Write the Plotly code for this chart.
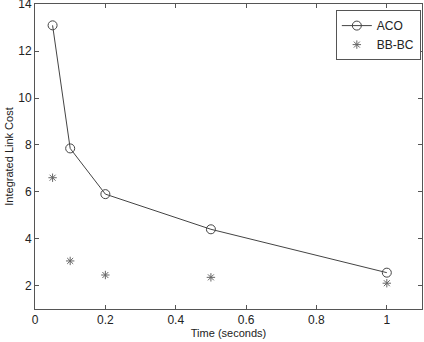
import plotly.graph_objects as go

time_aco = [0.05, 0.1, 0.2, 0.5, 1.0]
cost_aco = [13.1, 7.85, 5.9, 4.4, 2.55]
time_bbbc = [0.05, 0.1, 0.2, 0.5, 1.0]
cost_bbbc = [6.6, 3.05, 2.45, 2.35, 2.1]
x_ticks = [0, 0.2, 0.4, 0.6, 0.8, 1]
x_tick_labels = ["0", "0.2", "0.4", "0.6", "0.8", "1"]
y_ticks = [2, 4, 6, 8, 10, 12, 14]

FONT = "Liberation Sans, Arial"
fig = go.Figure()
fig.add_trace(go.Scatter(x=time_aco, y=cost_aco, mode="lines+markers", name="ACO",
                         line=dict(color="#444444", width=1),
                         marker=dict(symbol="circle-open", size=9, color="#444444", line=dict(width=1))))
fig.add_trace(go.Scatter(x=time_bbbc, y=cost_bbbc, mode="markers", name="BB-BC",
                         marker=dict(symbol="asterisk-open", size=7, color="#666666", line=dict(width=1, color="#666666"))))

axis_common = dict(showgrid=False, zeroline=False, showline=True, linecolor="#555555", linewidth=1,
                   mirror="ticks", ticks="inside", ticklen=4, tickcolor="#555555", automargin=False,
                   ticklabeloverflow="allow",
                   tickfont=dict(family=FONT, size=12, color="#222222"))
fig.update_layout(
    width=424, height=342,
    margin=dict(l=35, r=2, t=4, b=33),
    paper_bgcolor="white", plot_bgcolor="white",
    xaxis=dict(range=[0, 1.1], tickvals=x_ticks, ticktext=x_tick_labels,
               title=dict(text="Time (seconds)", font=dict(family=FONT, size=11, color="#222222"), standoff=2),
               **axis_common),
    yaxis=dict(range=[1, 14.01], tickvals=y_ticks,
               title=dict(text="Integrated Link Cost", font=dict(family=FONT, size=11, color="#222222"), standoff=2),
               **axis_common),
    legend=dict(x=0.997, y=0.98, xanchor="right", yanchor="top", bgcolor="white",
                bordercolor="#555555", borderwidth=1,
                font=dict(family=FONT, size=12, color="#222222"),
                tracegroupgap=0),
    showlegend=True,
)
fig.write_html("out.html", config={"displayModeBar": False},
               post_script="document.body.style.margin='0';document.body.style.overflow='hidden';")
